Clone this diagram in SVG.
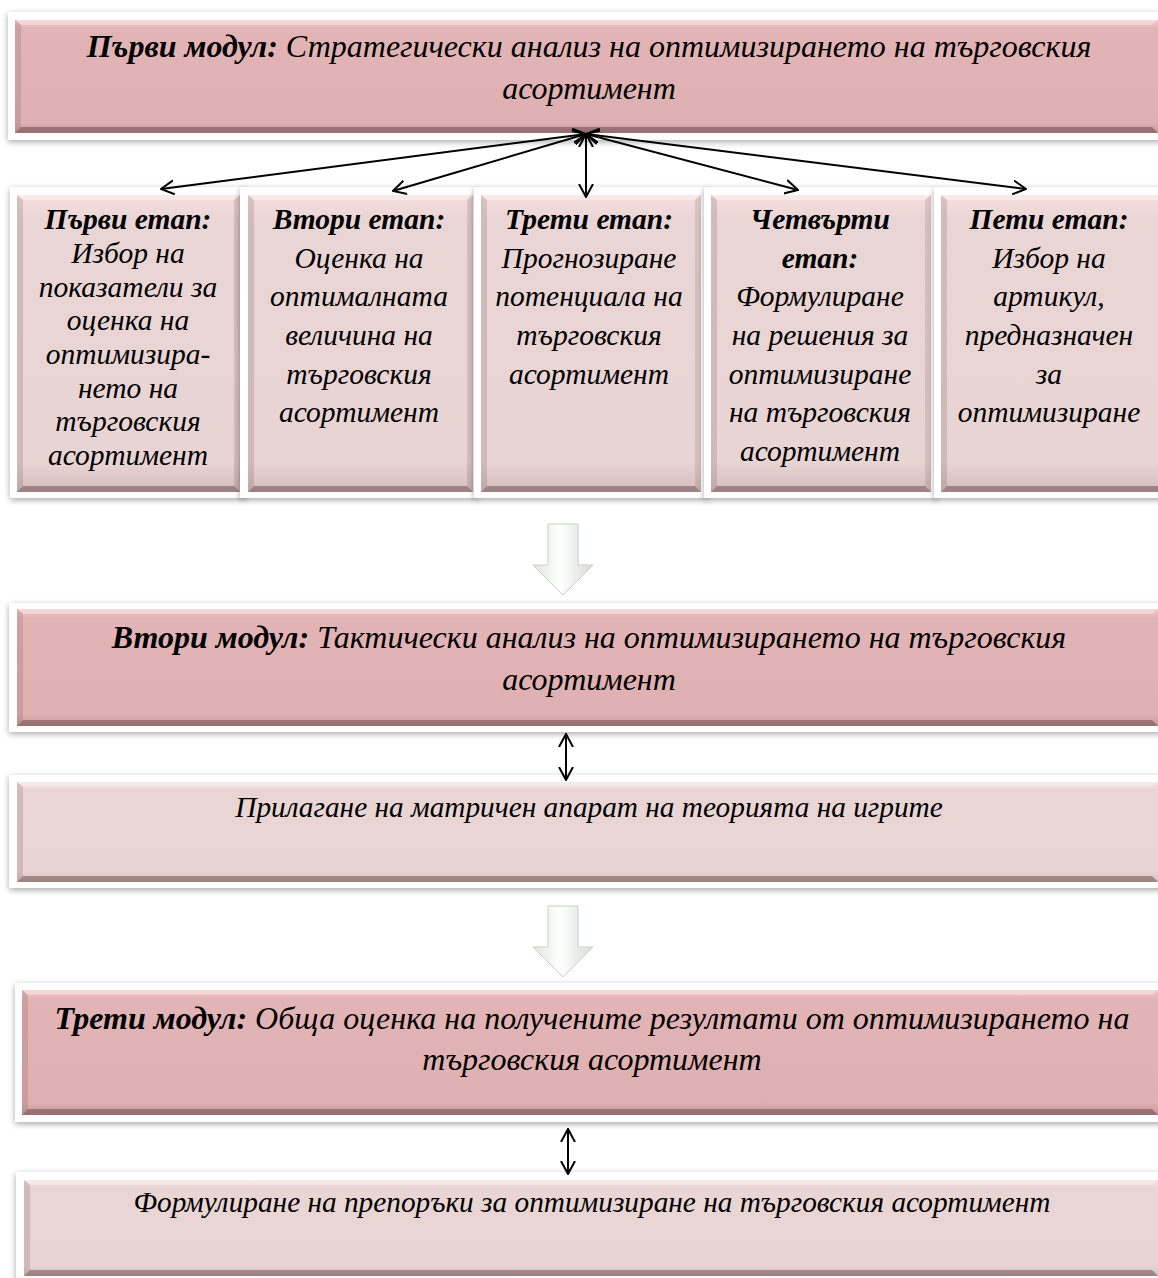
<svg xmlns="http://www.w3.org/2000/svg" width="1158" height="1278" viewBox="0 0 1158 1278">
<style>
.frame{fill:#ffffff;filter:url(#sh)}
.mod{fill:url(#gmod)}
.sub{fill:url(#gsub)}
.bt{fill:#ffffff;opacity:0.35}
.bb{fill:#5a3a3a;opacity:0.45}
.bl{fill:#7a5a5a;opacity:0.22}
.br{fill:#7a5a5a;opacity:0.18}
text{font-family:"Liberation Serif","Times New Roman",serif;font-style:italic;fill:#000;text-anchor:middle}
.mt{font-size:32px}
.st{font-size:29.5px}
.sb{font-size:29.3px}
.b{font-weight:bold}
.con{stroke:#000;stroke-width:2;fill:none;marker-start:url(#ah);marker-end:url(#ah)}
.blk{fill:url(#garr);stroke:#c8cfc8;stroke-width:1}
</style>
<defs>
<filter id="sh" x="-5%" y="-20%" width="110%" height="140%">
<feGaussianBlur in="SourceAlpha" stdDeviation="3"/>
<feOffset dx="0" dy="2" result="o"/>
<feComponentTransfer><feFuncA type="linear" slope="0.35"/></feComponentTransfer>
<feMerge><feMergeNode/><feMergeNode in="SourceGraphic"/></feMerge>
</filter>
<linearGradient id="gmod" x1="0" y1="0" x2="0" y2="1">
<stop offset="0" stop-color="#f3c4c4"/>
<stop offset="0.08" stop-color="#e3b4b5"/>
<stop offset="0.9" stop-color="#dfb0b1"/>
<stop offset="1" stop-color="#c99a9b"/>
</linearGradient>
<linearGradient id="gsub" x1="0" y1="0" x2="0" y2="1">
<stop offset="0" stop-color="#f6dede"/>
<stop offset="0.08" stop-color="#ead5d5"/>
<stop offset="0.9" stop-color="#e9d4d4"/>
<stop offset="1" stop-color="#d2bcbc"/>
</linearGradient>
<linearGradient id="garr" x1="0" y1="0" x2="1" y2="0">
<stop offset="0" stop-color="#dfe5df"/>
<stop offset="0.45" stop-color="#ffffff"/>
<stop offset="1" stop-color="#d6dcd6"/>
</linearGradient>
<marker id="ah" viewBox="0 0 14 16" refX="13" refY="8" markerWidth="14" markerHeight="16" markerUnits="userSpaceOnUse" orient="auto-start-reverse">
<path d="M0,1 L13,8 L0,15" fill="none" stroke="#000" stroke-width="2"/>
</marker>
</defs>

<g id="module1">
<rect class="frame" x="8" y="12" width="1160" height="128"/>
<rect class="mod" x="15" y="20" width="1150" height="113"/>
<polygon class="bt" points="15,20 1158,20 1152,25 21,25"/>
<polygon class="bb" points="15,133 1158,133 1152,127 21,127"/>
<polygon class="bl" points="15,20 21,25 21,127 15,133"/>
<text class="mt" x="589" y="57"><tspan class="b">Първи модул:</tspan> Стратегически анализ на оптимизирането на търговския</text>
<text class="mt" x="589" y="99">асортимент</text>
</g>

<g id="stage1">
<rect class="frame" x="10" y="187" width="236" height="311"/>
<rect class="sub" x="17" y="195" width="223" height="297"/>
<polygon class="bt" points="17,195 240,195 234,200 23,200"/>
<polygon class="bb" points="17,492 240,492 234,486 23,486"/>
<polygon class="bl" points="17,195 23,200 23,486 17,492"/>
<polygon class="br" points="240,195 234,200 234,486 240,492"/>
<text class="st" x="128" y="229"><tspan class="b">Първи етап:</tspan></text>
<text class="st" x="128" y="263">Избор на</text>
<text class="st" x="128" y="297">показатели за</text>
<text class="st" x="128" y="330">оценка на</text>
<text class="st" x="128" y="364">оптимизира-</text>
<text class="st" x="128" y="398">нето на</text>
<text class="st" x="128" y="431">търговския</text>
<text class="st" x="128" y="465">асортимент</text>
</g>

<g id="stage2">
<rect class="frame" x="240" y="187" width="238" height="311"/>
<rect class="sub" x="248" y="195" width="225" height="297"/>
<polygon class="bt" points="248,195 473,195 467,200 254,200"/>
<polygon class="bb" points="248,492 473,492 467,486 254,486"/>
<polygon class="bl" points="248,195 254,200 254,486 248,492"/>
<polygon class="br" points="473,195 467,200 467,486 473,492"/>
<text class="st" x="359" y="229"><tspan class="b">Втори етап:</tspan></text>
<text class="st" x="359" y="268">Оценка на</text>
<text class="st" x="359" y="306">оптималната</text>
<text class="st" x="359" y="345">величина на</text>
<text class="st" x="359" y="384">търговския</text>
<text class="st" x="359" y="422">асортимент</text>
</g>

<g id="stage3">
<rect class="frame" x="474" y="187" width="234" height="311"/>
<rect class="sub" x="481" y="195" width="220" height="297"/>
<polygon class="bt" points="481,195 701,195 695,200 487,200"/>
<polygon class="bb" points="481,492 701,492 695,486 487,486"/>
<polygon class="bl" points="481,195 487,200 487,486 481,492"/>
<polygon class="br" points="701,195 695,200 695,486 701,492"/>
<text class="st" x="589" y="229"><tspan class="b">Трети етап:</tspan></text>
<text class="st" x="589" y="268">Прогнозиране</text>
<text class="st" x="589" y="306">потенциала на</text>
<text class="st" x="589" y="345">търговския</text>
<text class="st" x="589" y="384">асортимент</text>
</g>

<g id="stage4">
<rect class="frame" x="704" y="187" width="234" height="311"/>
<rect class="sub" x="711" y="195" width="220" height="297"/>
<polygon class="bt" points="711,195 931,195 925,200 717,200"/>
<polygon class="bb" points="711,492 931,492 925,486 717,486"/>
<polygon class="bl" points="711,195 717,200 717,486 711,492"/>
<polygon class="br" points="931,195 925,200 925,486 931,492"/>
<text class="st" x="820" y="229"><tspan class="b">Четвърти</tspan></text>
<text class="st" x="820" y="268"><tspan class="b">етап:</tspan></text>
<text class="st" x="820" y="306">Формулиране</text>
<text class="st" x="820" y="345">на решения за</text>
<text class="st" x="820" y="384">оптимизиране</text>
<text class="st" x="820" y="422">на търговския</text>
<text class="st" x="820" y="461">асортимент</text>
</g>

<g id="stage5">
<rect class="frame" x="934" y="187" width="234" height="311"/>
<rect class="sub" x="941" y="195" width="225" height="297"/>
<polygon class="bt" points="941,195 1158,195 1158,200 947,200"/>
<polygon class="bb" points="941,492 1158,492 1158,486 947,486"/>
<polygon class="bl" points="941,195 947,200 947,486 941,492"/>
<text class="st" x="1049" y="229"><tspan class="b">Пети етап:</tspan></text>
<text class="st" x="1049" y="268">Избор на</text>
<text class="st" x="1049" y="306">артикул,</text>
<text class="st" x="1049" y="345">предназначен</text>
<text class="st" x="1049" y="384">за</text>
<text class="st" x="1049" y="422">оптимизиране</text>
</g>

<g id="arrow1">
<path class="blk" d="M548,524 L578,524 L578,565 L593,565 L563,595 L533,565 L548,565 Z"/>
</g>

<g id="module2">
<rect class="frame" x="9" y="603" width="1160" height="129"/>
<rect class="mod" x="17" y="609" width="1150" height="117"/>
<polygon class="bt" points="17,609 1158,609 1152,614 23,614"/>
<polygon class="bb" points="17,726 1158,726 1152,720 23,720"/>
<polygon class="bl" points="17,609 23,614 23,720 17,726"/>
<text class="mt" x="589" y="648"><tspan class="b">Втори модул:</tspan> Тактически анализ на оптимизирането на търговския</text>
<text class="mt" x="589" y="690">асортимент</text>
</g>

<g id="apply">
<rect class="frame" x="9" y="775" width="1160" height="113"/>
<rect class="sub" x="17" y="782" width="1150" height="100"/>
<polygon class="bt" points="17,782 1158,782 1152,787 23,787"/>
<polygon class="bb" points="17,882 1158,882 1152,876 23,876"/>
<polygon class="bl" points="17,782 23,787 23,876 17,882"/>
<text class="sb" x="589" y="817">Прилагане на матричен апарат на теорията на игрите</text>
</g>

<g id="arrow2">
<path class="blk" d="M548,906 L578,906 L578,947 L593,947 L563,977 L533,947 L548,947 Z"/>
</g>

<g id="module3">
<rect class="frame" x="15" y="983" width="1160" height="139"/>
<rect class="mod" x="22" y="990" width="1150" height="125"/>
<polygon class="bt" points="22,990 1158,990 1152,995 28,995"/>
<polygon class="bb" points="22,1115 1158,1115 1152,1109 28,1109"/>
<polygon class="bl" points="22,990 28,995 28,1109 22,1115"/>
<text class="mt" x="592" y="1029"><tspan class="b">Трети модул:</tspan> Обща оценка на получените резултати от оптимизирането на</text>
<text class="mt" x="592" y="1070">търговския асортимент</text>
</g>

<g id="recommend">
<rect class="frame" x="16" y="1172" width="1160" height="120"/>
<rect class="sub" x="24" y="1180" width="1150" height="96"/>
<polygon class="bt" points="24,1180 1158,1180 1152,1185 30,1185"/>
<polygon class="bb" points="24,1276 1158,1276 1152,1270 30,1270"/>
<polygon class="bl" points="24,1180 30,1185 30,1270 24,1276"/>
<text class="sb" x="592" y="1212">Формулиране на препоръки за оптимизиране на търговския асортимент</text>
</g>

<g id="connectors">
<line class="con" x1="586" y1="134" x2="161" y2="189"/>
<line class="con" x1="586" y1="134" x2="393" y2="191"/>
<line class="con" x1="586" y1="134" x2="586" y2="197"/>
<line class="con" x1="586" y1="134" x2="798" y2="190"/>
<line class="con" x1="586" y1="134" x2="1026" y2="189"/>
<line class="con" x1="566" y1="734" x2="566" y2="780"/>
<line class="con" x1="568" y1="1129" x2="568" y2="1174"/>
</g>
</svg>
